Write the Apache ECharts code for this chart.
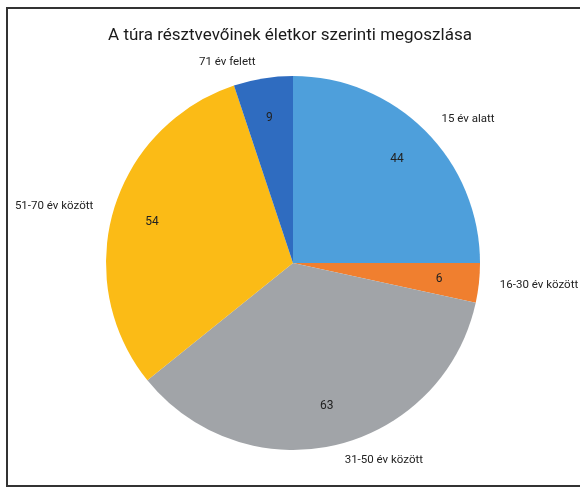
<!DOCTYPE html>
<html>
<head>
<meta charset="utf-8">
<script src="https://cdn.jsdelivr.net/npm/echarts@6/dist/echarts.min.js"></script>
<style>
html,body{margin:0;padding:0;background:#fff;}
#c{width:580px;height:489px;}
</style>
</head>
<body>
<div id="c"></div>
<script>
const titleText = 'A túra résztvevőinek életkor szerinti megoszlása';
const categories = ['15 év alatt', '16-30 év között', '31-50 év között', '51-70 év között', '71 év felett'];
const values = [44, 6, 63, 54, 9];
const colors = ['#4e9fdb', '#f07f2f', '#a1a4a8', '#fbbb16', '#2f6cc0'];

const data = categories.map((c, i) => ({ name: c, value: values[i], itemStyle: { color: colors[i] } }));
const font = 'Roboto, "Noto Sans", sans-serif';

const chart = echarts.init(document.getElementById('c'), null, { renderer: 'canvas' });
chart.setOption({
  backgroundColor: '#fff',
  animation: false,
  title: {
    text: titleText,
    left: 'center',
    top: 22,
    textStyle: { fontFamily: font, fontSize: 17, fontWeight: 'normal', color: '#1a1a1a' }
  },
  graphic: [{
    type: 'rect',
    shape: { x: 7, y: 8, width: 580, height: 478 },
    style: { fill: 'none', stroke: '#333', lineWidth: 2 },
    z: 100
  }],
  series: [
    {
      type: 'pie',
      center: [293, 263],
      radius: 187,
      startAngle: 90,
      clockwise: true,
      data: data,
      label: {
        show: true,
        position: 'outside',
        formatter: '{b}',
        fontFamily: font,
        fontSize: 11.5,
        color: '#222',
        overflow: 'none'
      },
      labelLine: { show: false, length: 16, length2: 0 },
      itemStyle: { borderWidth: 0 }
    },
    {
      type: 'pie',
      center: [293, 263],
      radius: [101, 187],
      startAngle: 90,
      clockwise: true,
      silent: true,
      data: data.map(d => ({ name: d.name, value: d.value, itemStyle: { color: 'rgba(0,0,0,0)' } })),
      label: {
        show: true,
        position: 'inside',
        formatter: '{c}',
        fontFamily: font,
        fontSize: 12,
        color: '#222'
      },
      labelLine: { show: false },
      itemStyle: { borderWidth: 0 }
    }
  ]
});
</script>
</body>
</html>
